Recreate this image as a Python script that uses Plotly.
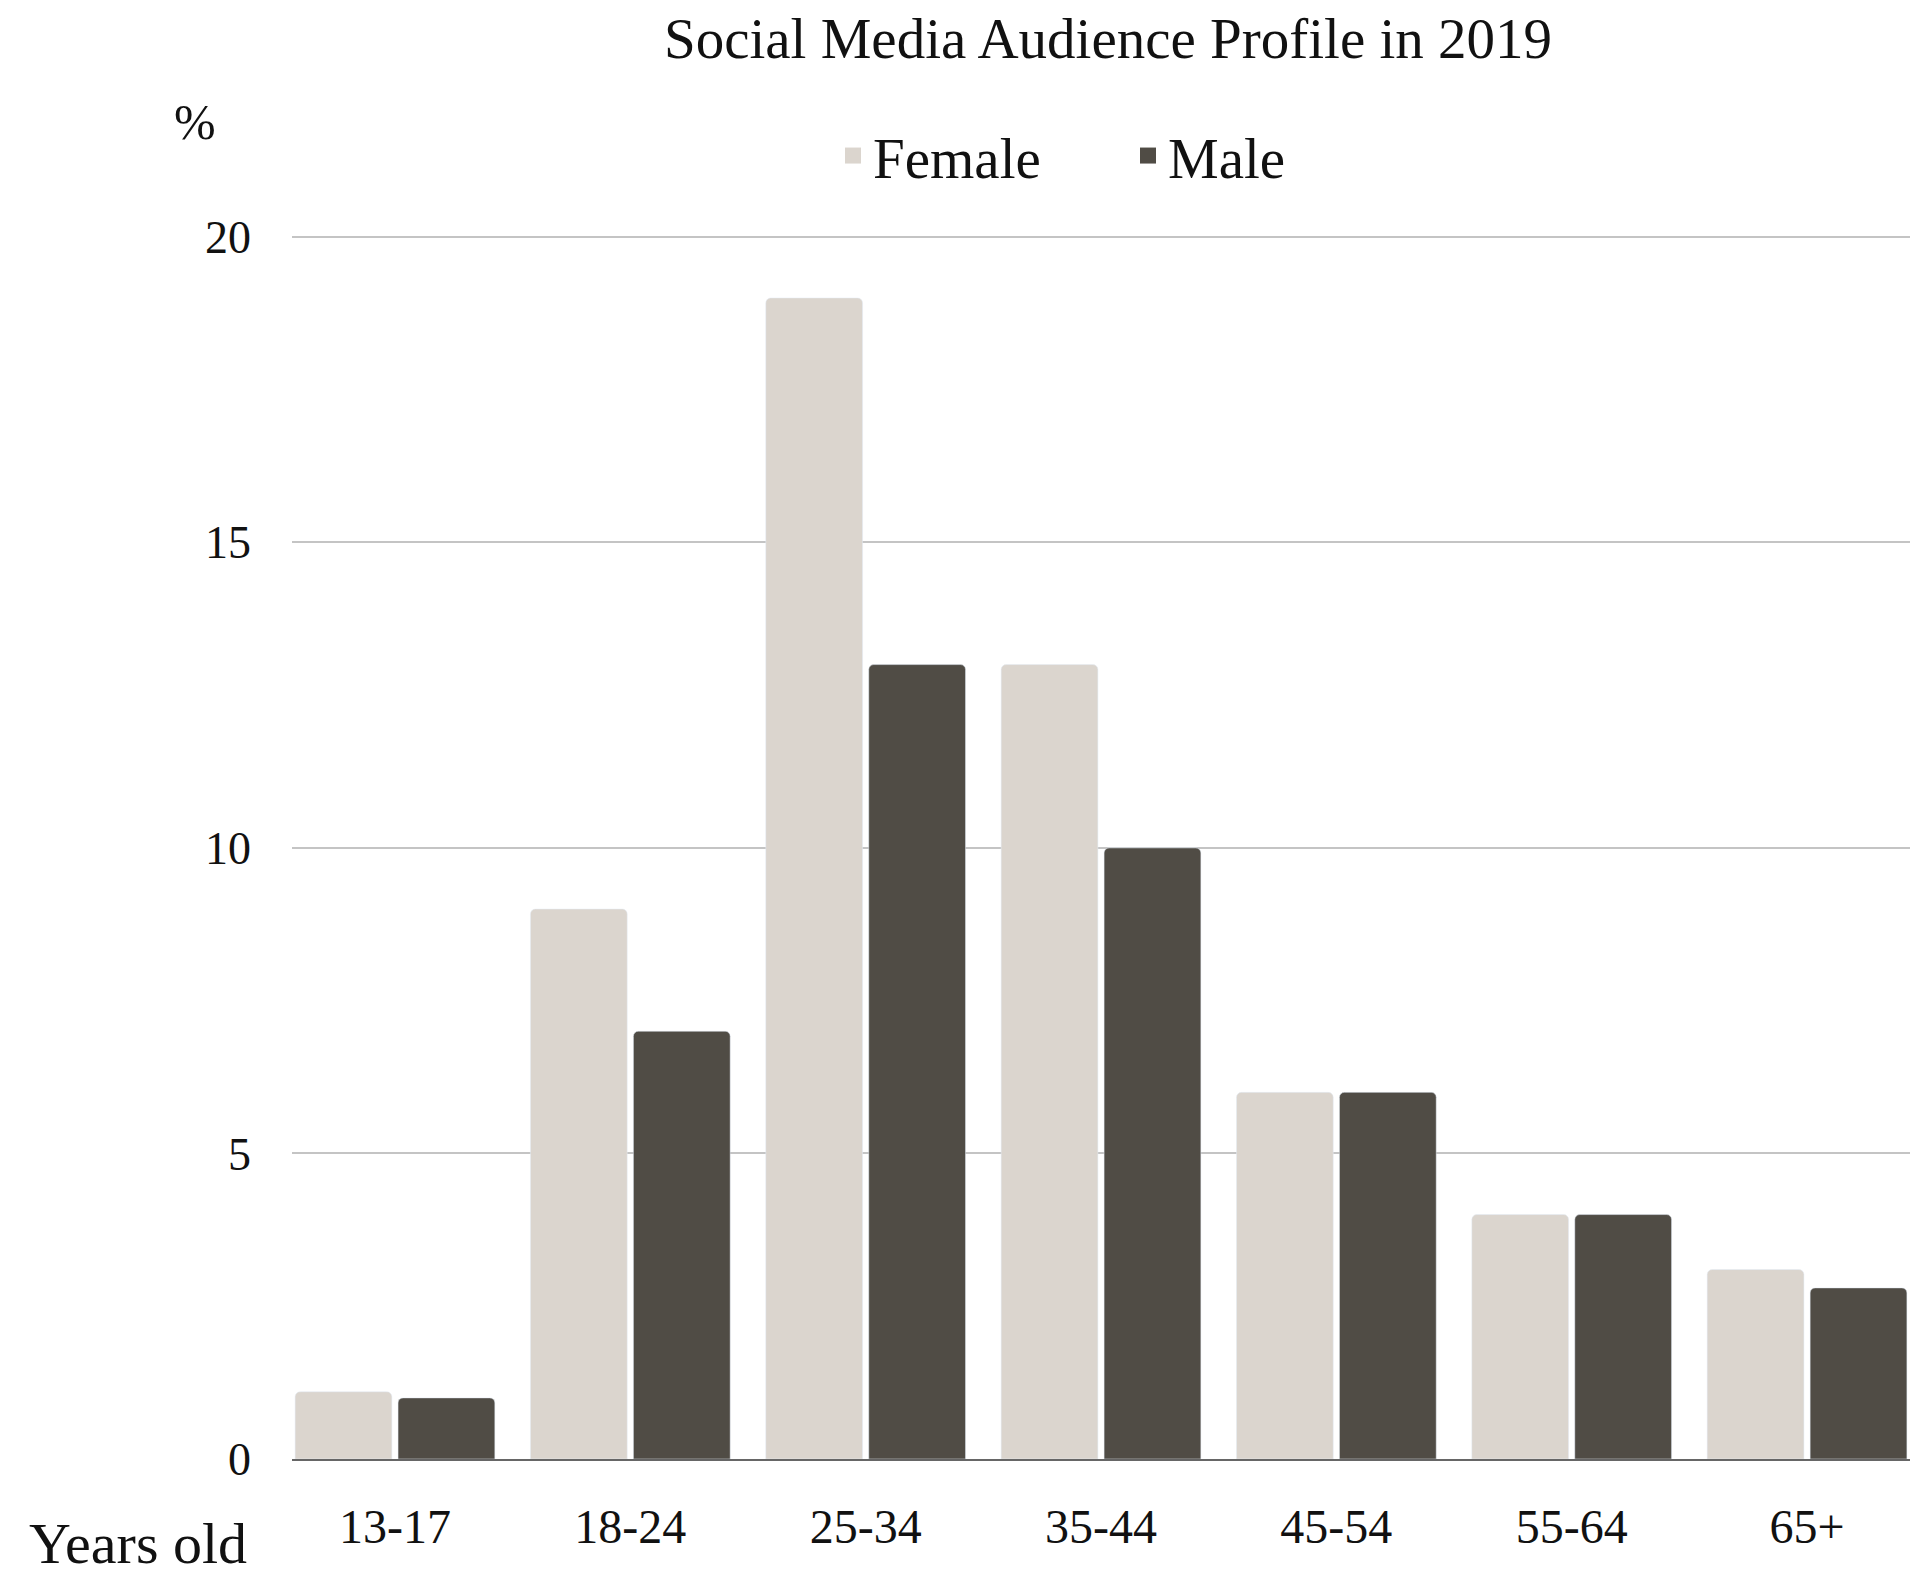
import plotly.graph_objects as go

categories = ["13-17", "18-24", "25-34", "35-44", "45-54", "55-64", "65+"]
female = [1.1, 9, 19, 13, 6, 4, 3.1]
male = [1.0, 7, 13, 10, 6, 4, 2.8]
y_ticks = [0, 5, 10, 15, 20]

FEMALE_C = "#dbd5ce"
MALE_C = "#504c45"
FONT = "Liberation Serif"
TXT = "#111111"

fig = go.Figure()
fig.add_trace(go.Bar(x=categories, y=female, name="Female", marker=dict(color=FEMALE_C, cornerradius=5),
                     showlegend=False))
fig.add_trace(go.Bar(x=categories, y=male, name="Male", marker=dict(color=MALE_C, cornerradius=5),
                     showlegend=False))
# legend entries
fig.add_trace(go.Scatter(x=[None], y=[None], mode="markers", name="Female",
                         marker=dict(symbol="square", size=24, color=FEMALE_C)))
fig.add_trace(go.Scatter(x=[None], y=[None], mode="markers", name="Male",
                         marker=dict(symbol="square", size=24, color=MALE_C)))

fig.update_layout(
    width=1910, height=1576,
    margin=dict(l=292, r=0, t=235, b=117),
    paper_bgcolor="white", plot_bgcolor="white",
    font=dict(family=FONT, color=TXT),
    barmode="group", bargap=0.125, bargroupgap=0.06,
    title=dict(text="Social Media Audience Profile in 2019", x=1108/1910, xanchor="center",
               y=1 - 38/1576, yanchor="middle", font=dict(size=57, family=FONT, color=TXT)),
    legend=dict(orientation="h", xref="container", yref="container", x=1128/1910, xanchor="center",
                y=1 - 156/1576, yanchor="middle", font=dict(size=57, family=FONT, color=TXT),
                itemsizing="trace", traceorder="normal", entrywidth=250),
    xaxis=dict(type="category", range=[-0.4375, 6.4375], showgrid=False, showline=True,
               linecolor="#666666", linewidth=2, ticks="", tickfont=dict(size=48, family=FONT, color=TXT),
               ticklabelstandoff=24, zeroline=False),
    yaxis=dict(range=[0, 20.03], tickvals=y_ticks, ticktext=[str(v) for v in y_ticks], showgrid=True,
               gridcolor="#c4c4c4", gridwidth=2, zeroline=False, showline=False, ticks="",
               tickfont=dict(size=46, family=FONT, color=TXT), ticklabelstandoff=40),
    annotations=[
        dict(text="%", xref="paper", yref="paper", x=-0.06, y=1 + (235 - 122)/1224, xanchor="center",
             yanchor="middle", showarrow=False, font=dict(size=50, family=FONT, color=TXT)),
        dict(text="Years old", xref="paper", yref="paper", x=-(292 - 27)/1618, y=-(1543 - 1459)/1224,
             xanchor="left", yanchor="middle", showarrow=False, font=dict(size=58, family=FONT, color=TXT)),
    ],
)

fig.write_html("out.html")
